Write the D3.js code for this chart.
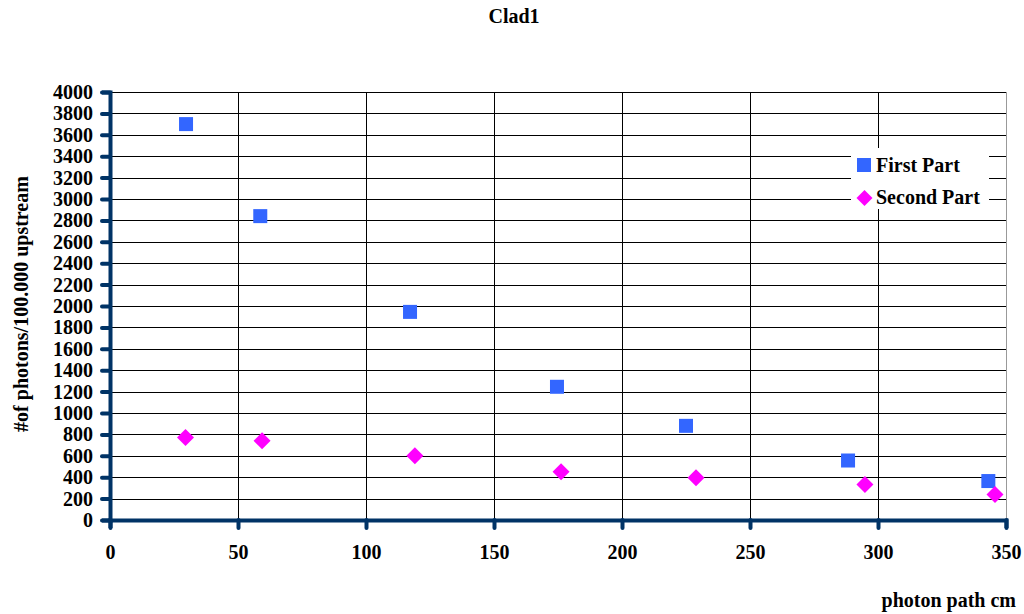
<!DOCTYPE html>
<html>
<head>
<meta charset="utf-8">
<script src="https://cdn.jsdelivr.net/npm/d3@7"></script>
<style>
  html, body { margin: 0; padding: 0; background: #fff; }
  svg text { font-family: "Liberation Serif", "Times New Roman", serif; font-weight: bold; fill: #000; }
</style>
</head>
<body>
<svg id="chart" width="1024" height="614"></svg>
<script>
// Photon counts along the path, for the two parts of the clad
const firstPathX  = [29.7, 58.7, 117.2, 174.6, 225.0, 288.3, 343.1];
const firstCounts = [3700, 2840, 1945, 1245, 880, 556, 364];
const secondPathX  = [29.5, 59.4, 119.1, 176.2, 228.9, 294.9, 345.7];
const secondCounts = [770, 740, 600, 450, 395, 332, 238];
const seriesNames = ["First Part", "Second Part"];
const xTicks = [0, 50, 100, 150, 200, 250, 300, 350];
const yTicks = d3.range(0, 4001, 200);

const svg = d3.select("#chart");
const plotL = 110, plotR = 1006, plotT = 92, plotB = 520;
const fontPx = "20px";

const x = d3.scaleLinear().domain([0, 350]).range([plotL, plotR]);
const y = d3.scaleLinear().domain([0, 4000]).range([plotB, plotT]);

// grid
const grid = svg.append("g");
grid.selectAll("line.h").data(yTicks.filter(d => d > 0)).join("line")
  .attr("x1", plotL).attr("x2", plotR)
  .attr("y1", d => Math.round(y(d)) + 0.5).attr("y2", d => Math.round(y(d)) + 0.5)
  .attr("stroke", "#000").attr("stroke-width", 1);
grid.selectAll("line.v").data(xTicks.filter(d => d > 0 && d < 350)).join("line")
  .attr("x1", d => x(d) + 0.5).attr("x2", d => x(d) + 0.5)
  .attr("y1", plotT).attr("y2", plotB)
  .attr("stroke", "#000").attr("stroke-width", 1);
// right border of plot
grid.append("line")
  .attr("x1", plotR + 0.5).attr("x2", plotR + 0.5).attr("y1", plotT).attr("y2", plotB)
  .attr("stroke", "#999").attr("stroke-width", 1);

// legend background interrupts the grid
const lg = svg.append("g");
lg.append("rect").attr("x", 851).attr("y", 148).attr("width", 138).attr("height", 61).attr("fill", "#fff");

// axes
const navy = "#003366";
const yAxis = svg.append("g").attr("transform", `translate(${plotL},0)`)
  .call(d3.axisLeft(y).tickValues(yTicks).tickSize(8).tickPadding(9).tickFormat(d3.format("d")));
yAxis.select(".domain").attr("stroke", navy).attr("stroke-width", 4);
yAxis.selectAll(".tick line").attr("stroke", navy).attr("stroke-width", 4).attr("stroke-linecap", "round");
yAxis.selectAll(".tick text").style("font-size", fontPx).attr("fill", "#000");

const xAxis = svg.append("g").attr("transform", `translate(0,${plotB})`)
  .call(d3.axisBottom(x).tickValues(xTicks).tickSize(8).tickPadding(17));
xAxis.select(".domain").attr("stroke", navy).attr("stroke-width", 4);
xAxis.selectAll(".tick line").attr("stroke", navy).attr("stroke-width", 4).attr("stroke-linecap", "round");
xAxis.selectAll(".tick text").style("font-size", fontPx).attr("fill", "#000");

// series markers
const blue = "#3366FF", magenta = "#FF00FF";
const first = firstPathX.map((v, i) => [v, firstCounts[i]]);
const second = secondPathX.map((v, i) => [v, secondCounts[i]]);

svg.append("g").selectAll("rect").data(first).join("rect")
  .attr("x", d => x(d[0]) - 7).attr("y", d => y(d[1]) - 7)
  .attr("width", 14).attr("height", 14).attr("fill", blue);

svg.append("g").selectAll("path").data(second).join("path")
  .attr("transform", d => `translate(${x(d[0])},${y(d[1])})`)
  .attr("d", "M0,-8.5L8.5,0L0,8.5L-8.5,0Z").attr("fill", magenta);

// legend entries
lg.append("rect").attr("x", 857).attr("y", 158).attr("width", 14).attr("height", 14).attr("fill", blue);
lg.append("text").attr("x", 876).attr("y", 172).style("font-size", fontPx).text(seriesNames[0]);
lg.append("path").attr("transform", "translate(864.5,198)").attr("d", "M0,-8L8,0L0,8L-8,0Z").attr("fill", magenta);
lg.append("text").attr("x", 876).attr("y", 204).style("font-size", fontPx).text(seriesNames[1]);

// titles
svg.append("text").attr("x", 514).attr("y", 23).attr("text-anchor", "middle").style("font-size", fontPx).text("Clad1");
svg.append("text").attr("transform", "translate(28,304) rotate(-90)").attr("text-anchor", "middle")
  .style("font-size", fontPx).text("#of photons/100.000 upstream");
svg.append("text").attr("x", 1016).attr("y", 607).attr("text-anchor", "end").style("font-size", fontPx).text("photon path cm");
</script>
</body>
</html>
